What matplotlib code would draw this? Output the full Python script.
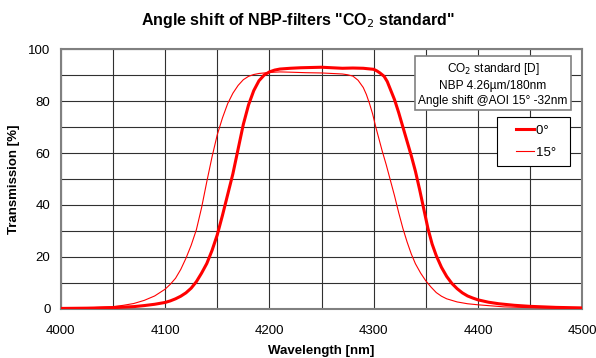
import matplotlib
matplotlib.use("Agg")
import matplotlib.pyplot as plt
from matplotlib.ticker import MultipleLocator
from matplotlib.legend_handler import HandlerLine2D

plt.rcParams['font.family'] = ['Liberation Sans', 'DejaVu Sans']

# 0 deg curve (thick)
wl_0 = [4000, 4025, 4050, 4060, 4070, 4080, 4090, 4100, 4105, 4110, 4115, 4120,
        4125, 4130, 4135, 4140, 4145, 4150, 4155, 4160, 4165, 4170, 4175, 4180,
        4185, 4190, 4195, 4200, 4205, 4210, 4220, 4230, 4240, 4250, 4260, 4270,
        4280, 4290, 4300, 4303, 4306, 4310, 4313, 4316, 4320, 4324, 4328, 4332,
        4336, 4340, 4344, 4348, 4352, 4356, 4360, 4365, 4370, 4375, 4380, 4385,
        4390, 4395, 4400, 4410, 4420, 4435, 4450, 4475, 4500]
tr_0 = [0.2, 0.3, 0.5, 0.7, 0.9, 1.3, 1.8, 2.5, 3.1, 3.9, 4.9, 6.2,
        8.0, 10.5, 13.8, 17.5, 22.5, 28.5, 36, 44, 52, 61.5, 71, 78.5,
        84, 87.8, 90, 91.2, 91.9, 92.3, 92.6, 92.8, 92.9, 93.0, 92.8, 92.6,
        92.7, 92.6, 92.2, 91.6, 90.8, 89.5, 87.5, 84.5, 80.5, 75.5, 70, 64.5,
        59, 53, 46, 38.5, 31, 25, 20.5, 16, 12.5, 9.8, 7.8, 6.2,
        5.0, 4.2, 3.5, 2.6, 2.0, 1.4, 1.0, 0.6, 0.4]

# 15 deg curve (thin)
wl_15 = [4000, 4025, 4050, 4060, 4070, 4080, 4090, 4100, 4105, 4110, 4115, 4120,
         4125, 4130, 4135, 4140, 4145, 4150, 4155, 4160, 4165, 4170, 4175, 4180,
         4185, 4190, 4200, 4210, 4220, 4235, 4250, 4260, 4270, 4275, 4280, 4285,
         4290, 4293, 4296, 4299, 4302, 4305, 4308, 4312, 4316, 4320, 4324, 4328,
         4332, 4336, 4340, 4345, 4350, 4355, 4360, 4365, 4370, 4380, 4390, 4400,
         4425, 4450, 4475, 4500]
tr_15 = [0.2, 0.4, 0.9, 1.4, 2.1, 3.3, 5.0, 7.6, 9.5, 11.8, 15.2, 19.5,
         24.5, 30.5, 39, 49, 58.5, 67, 73.5, 79, 83, 86, 88.2, 89.5,
         90.2, 90.6, 91.0, 91.2, 91.1, 90.9, 90.8, 90.6, 90.4, 90.1, 89.6, 88,
         85.2, 82.5, 79, 75, 70, 65.5, 61, 55.5, 49.5, 43.5, 37, 31,
         25.8, 21.2, 17.4, 13.8, 10.8, 8.4, 6.3, 4.9, 3.9, 2.7, 2.0, 1.6,
         0.8, 0.5, 0.3, 0.2]

info_lines = ["CO$_2$ standard [D]", "NBP 4.26µm/180nm", "Angle shift @AOI 15° -32nm"]

fig = plt.figure(figsize=(5.96, 3.58), dpi=100)
ax = fig.add_axes([0.102, 0.137, 0.875, 0.726])

l0, = ax.plot(wl_0, tr_0, color='#ff0000', lw=2.2, label='0°   ', zorder=3)
l15, = ax.plot(wl_15, tr_15, color='#ff0000', lw=0.8, label='15°  ', zorder=3)

ax.set_xlim(4000, 4500)
ax.set_ylim(0, 100)
ax.xaxis.set_major_locator(MultipleLocator(100))
ax.xaxis.set_minor_locator(MultipleLocator(50))
ax.yaxis.set_major_locator(MultipleLocator(20))
ax.yaxis.set_minor_locator(MultipleLocator(10))
ax.grid(which='both', color='#303030', lw=0.8)
ax.tick_params(which='both', length=0, labelsize=9.5)
ax.tick_params(axis='x', pad=11.5)
ax.tick_params(axis='y', pad=7.5)
for s in ax.spines.values():
    s.set_color('#808080')
    s.set_linewidth(1.5)

ax.set_xlabel('Wavelength [nm]', fontsize=9.5, fontweight='bold', labelpad=6)
ax.set_ylabel('Transmission [%]', fontsize=9.5, fontweight='bold', labelpad=6)
fig.suptitle('Angle shift of NBP-filters "CO$_2$ standard"', x=0.5, y=0.968,
             fontsize=11.5, fontweight='bold')

ax.text(0.829, 0.865, "\n".join(info_lines), transform=ax.transAxes,
        ha='center', va='center', fontsize=8.6, linespacing=1.3, zorder=5,
        bbox=dict(boxstyle='square,pad=0.3', fc='white', ec='#808080', lw=1.2))

leg = ax.legend(loc='upper right', bbox_to_anchor=(0.977, 0.738), fontsize=9.5,
                fancybox=False, framealpha=1, edgecolor='black',
                handlelength=2.2, handletextpad=0.15, borderpad=0.55,
                labelspacing=0.75, borderaxespad=0,
                handler_map={l0: HandlerLine2D(xpad=0.85),
                             l15: HandlerLine2D(xpad=0.85)})
leg.get_frame().set_linewidth(0.8)

fig.savefig('out.png', dpi=100)
